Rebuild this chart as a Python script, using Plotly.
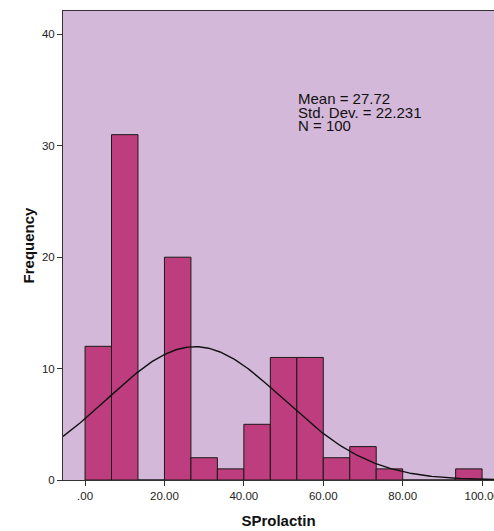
import numpy as np
import plotly.graph_objects as go

# Histogram data (bins of width 20/3 starting at 0)
bin_start = 0.0
bin_width = 20.0 / 3.0
counts = [12, 31, 0, 20, 2, 1, 5, 11, 11, 2, 3, 1, 0, 0, 1]
mean_val = 27.72
sd_val = 22.231
n_val = 100
x_tickvals = [0, 20, 40, 60, 80, 100]
x_ticktext = [".00", "20.00", "40.00", "60.00", "80.00", "100.00"]
y_tickvals = [0, 10, 20, 30, 40]
stats_lines = [f"Mean = {mean_val:.2f}", f"Std. Dev. = {sd_val:.3f}", f"N = {n_val}"]

centers = [bin_start + bin_width * (i + 0.5) for i in range(len(counts))]

xr = [-5.55, 103.0]
xc = np.linspace(xr[0], xr[1], 300)
yc = n_val * bin_width / (sd_val * np.sqrt(2 * np.pi)) * np.exp(-0.5 * ((xc - mean_val) / sd_val) ** 2)

fig = go.Figure()
fig.add_trace(go.Bar(
    x=centers, y=counts, width=bin_width,
    marker=dict(color="#BE3D7E", line=dict(color="#1a1a1a", width=1)),
    hoverinfo="skip",
))
fig.add_trace(go.Scatter(
    x=xc, y=yc, mode="lines",
    line=dict(color="#111111", width=1.4),
    hoverinfo="skip",
))

# plot area in page pixels: x 63..494, y 11..480
line_y = [98.5, 112.0, 125.5]
for txt, py in zip(stats_lines, line_y):
    fig.add_annotation(
        xref="paper", yref="paper",
        x=(296 - 63) / 431, y=(480 - py) / 469,
        xanchor="left", yanchor="middle", showarrow=False,
        text=txt,
        font=dict(family="Liberation Sans, Arial, sans-serif", size=15, color="#111111"),
    )

fig.update_layout(
    width=494, height=531,
    autosize=False,
    margin=dict(l=63, r=0, t=11, b=51, autoexpand=False),
    paper_bgcolor="white",
    plot_bgcolor="#D4B8D9",
    showlegend=False,
    bargap=0,
    hovermode=False,
    font=dict(family="Liberation Sans, Arial, sans-serif", size=11.5, color="#222222"),
    xaxis=dict(
        range=xr, tickvals=x_tickvals, ticktext=x_ticktext,
        automargin=False,
        showgrid=False, zeroline=False,
        showline=True, linecolor="#333333", linewidth=1, mirror=True,
        ticks="outside", ticklen=5, tickcolor="#333333",
        ticklabeloverflow="allow",
        title=dict(text="<b>SProlactin</b>", font=dict(size=15, color="#111111"), standoff=14),
    ),
    yaxis=dict(
        range=[0, 42.1], tickvals=y_tickvals,
        automargin=False,
        showgrid=False, zeroline=False,
        showline=True, linecolor="#333333", linewidth=1,
        ticks="outside", ticklen=5, tickcolor="#333333",
        title=dict(text="<b>Frequency</b>", font=dict(size=15, color="#111111"), standoff=3),
    ),
)

fig.write_html(
    "out.html",
    config={"responsive": False, "displayModeBar": False, "staticPlot": True},
    post_script="document.body.style.margin='0';document.body.style.overflow='hidden';",
)
